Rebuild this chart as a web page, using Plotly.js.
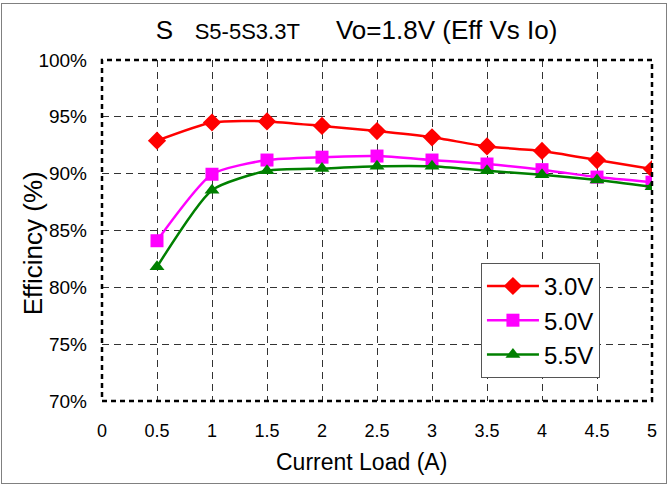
<!DOCTYPE html>
<html><head><meta charset="utf-8">
<script src="https://cdn.plot.ly/plotly-3.0.1.min.js"></script>
<style>body{margin:0;padding:0;background:#fff}#wrap{position:relative;width:667px;height:485px}#frame{position:absolute;left:1px;top:3px;width:664px;height:479px;border:1px solid #808080;pointer-events:none}</style>
</head><body><div id="wrap"><div id="chart" style="width:667px;height:485px"></div><div id="frame"></div></div>
<script>
const currentLoad = [0.5, 1.0, 1.5, 2.0, 2.5, 3.0, 3.5, 4.0, 4.5, 5.0];
const eff30 = [92.9, 94.5, 94.6, 94.2, 93.75, 93.2, 92.4, 92.0, 91.2, 90.4];
const eff50 = [84.1, 89.95, 91.2, 91.45, 91.55, 91.2, 90.85, 90.35, 89.7, 89.25];
const eff55 = [81.8, 88.55, 90.25, 90.45, 90.65, 90.65, 90.25, 89.9, 89.45, 88.85];
const seriesNames = ['3.0V', '5.0V', '5.5V'];
const xTicks = [0, 0.5, 1, 1.5, 2, 2.5, 3, 3.5, 4, 4.5, 5];
const xTickLabels = ['0', '0.5', '1', '1.5', '2', '2.5', '3', '3.5', '4', '4.5', '5'];
const yTicks = [70, 75, 80, 85, 90, 95, 100];
const yTickLabels = ['70%', '75%', '80%', '85%', '90%', '95%', '100%'];
const titleParts = ['S', 'S5-5S3.3T', 'Vo=1.8V (Eff Vs Io)'];
const xTitle = 'Current Load (A)';
const yTitle = 'Efficincy (%)';

const font = 'Liberation Sans, Arial, sans-serif';
function tr(y, name, color, sym) {
  return {x: currentLoad, y: y, name: name, type: 'scatter', mode: 'lines+markers',
    line: {color: color, width: 2.5, shape: 'spline', smoothing: 0.6},
    marker: {color: color, symbol: sym, size: sym === 'diamond' ? 14 : 13}};
}
const data = [
  tr(eff30, seriesNames[0], '#ff0000', 'diamond'),
  tr(eff50, seriesNames[1], '#ff00ff', 'square'),
  tr(eff55, seriesNames[2], '#008000', 'triangle-up')
];
const layout = {
  width: 667, height: 485,
  margin: {l: 102, r: 15, t: 60, b: 84},
  paper_bgcolor: '#fff', plot_bgcolor: '#fff',
  font: {family: font, color: '#000'},
  title: {text: titleParts[0] + '   <span style="font-size:22px">' + titleParts[1] + '</span>     ' + titleParts[2],
    font: {size: 26, family: font, color: '#000'}, x: 0.5345, xanchor: 'center', y: 0.938, yanchor: 'middle'},
  xaxis: {range: [0, 5], tickvals: xTicks, ticktext: xTickLabels, showgrid: true,
    gridcolor: '#333', griddash: '7px,5px', gridwidth: 1, zeroline: false, showline: false,
    ticks: '', tickfont: {size: 18, family: font}, ticklabelstandoff: 17},
  yaxis: {range: [70, 100], tickvals: yTicks, ticktext: yTickLabels, showgrid: true,
    gridcolor: '#333', griddash: '7px,5px', gridwidth: 1, zeroline: false, showline: false,
    ticks: '', tickfont: {size: 19, family: font}, ticklabelstandoff: 14},
  annotations: [
    {text: xTitle, xref: 'paper', yref: 'paper', x: 0.471, y: -0.179, xanchor: 'center', yanchor: 'middle',
      showarrow: false, font: {size: 23, family: font, color: '#000'}},
    {text: yTitle, xref: 'paper', yref: 'paper', x: -0.124, y: 0.462, xanchor: 'center', yanchor: 'middle',
      textangle: -90, showarrow: false, font: {size: 26, family: font, color: '#000'}}
  ],
  shapes: [{type: 'rect', xref: 'paper', yref: 'paper', x0: 0, x1: 1, y0: 0, y1: 1,
    line: {color: '#000', width: 2.5, dash: '5px,4px'}}],
  legend: {x: 0.689, y: 0.405, xanchor: 'left', yanchor: 'top', bgcolor: '#fff',
    bordercolor: '#555', borderwidth: 1, font: {size: 24, family: font}, itemwidth: 52},
  showlegend: true
};
Plotly.newPlot('chart', data, layout, {displayModeBar: false, staticPlot: true});
</script></body></html>
